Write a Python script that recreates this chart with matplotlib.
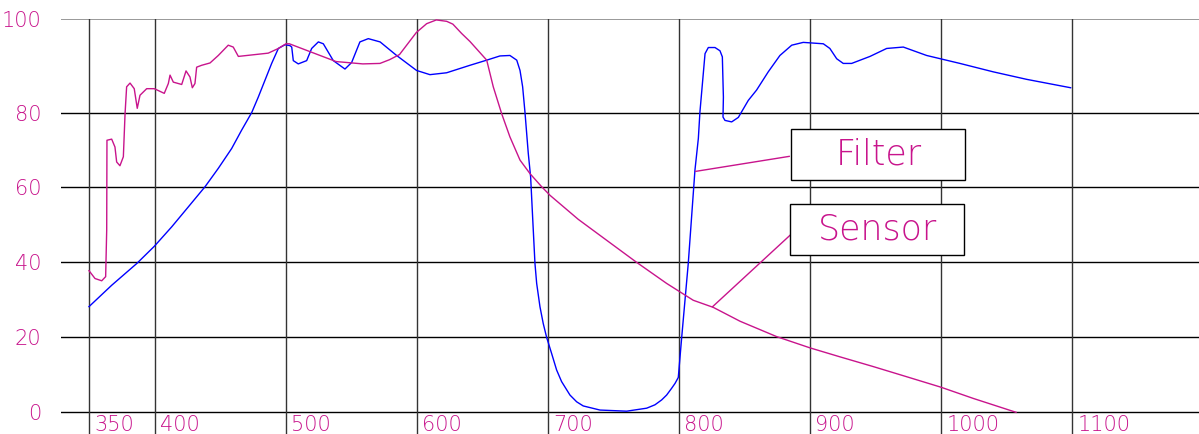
import numpy as np
import matplotlib
matplotlib.use('Agg')
import matplotlib.pyplot as plt
from matplotlib.patches import Rectangle

# colours
MAGENTA = '#c8148c'
BLUE = '#0000ff'

# Sensor response (%)
sensor_nm = [350, 354.6, 359.7, 362.7, 363.5, 363.7, 367.3, 369.8, 371.1, 373.6, 376.2, 377.5,
             378.7, 381.3, 384.5, 386.8, 388.9, 394, 399.8, 407.4, 410.5, 411.8, 414.3, 420.7,
             424, 427, 428.8, 430.8, 432.1, 435.9, 442.3, 448.6, 456.2, 460, 463.9, 486.7,
             494.4, 500.2, 502.8, 520.6, 538.4, 558.8, 571.9, 579.2, 586.8, 599.6, 607.5, 614.9,
             622.8, 627.5, 634.2, 640.5, 653.3, 658.3, 664.7, 671, 678.7, 686.3, 695.2, 701.6,
             723.1, 744.8, 767.7, 790.5, 810.8, 826.1, 846.5, 874.4, 899.8, 922.7, 948.1, 973.5,
             999.7, 1024.4, 1057]
sensor_pct = [37.8, 35.7, 35.1, 36.2, 48.6, 72.6, 72.9, 70.8, 66.8, 65.8, 68.2, 79.7,
              85.5, 86.3, 85.1, 80.9, 83.7, 85.1, 85.1, 84.1, 86.2, 88.0, 86.5, 86.0,
              88.9, 87.6, 85.3, 86.2, 89.7, 90.1, 90.6, 92.2, 94.4, 94.0, 92.0, 92.7,
              93.7, 94.7, 94.7, 92.8, 90.9, 90.4, 90.5, 91.3, 92.4, 97.1, 99.0, 99.8,
              99.5, 98.9, 96.9, 95.2, 91.2, 85.5, 79.7, 73.5, 67.3, 63.7, 60.2, 57.9,
              51.5, 45.9, 40.0, 34.4, 29.9, 28.0, 24.3, 20.2, 17.2, 14.8, 12.2, 9.5,
              6.7, 3.7, 0.0]

# Filter transmission (%)
filter_nm = [350, 367.3, 386.4, 399.8, 413.1, 425.7, 438.5, 448.6, 458.8, 466.4, 474.1, 479.1,
             484.2, 489.3, 494.4, 499.5, 503.3, 504.6, 505.8, 509.6, 516, 519.8, 524.9, 528.7,
             536.3, 545.2, 550.3, 556.6, 563, 572, 584.6, 599.8, 610, 622.7, 640.5, 653.3,
             663.4, 671, 676.2, 678.7, 680.7, 682.5, 685, 686.8, 688.4, 690.1, 691.4, 693.9,
             696.4, 699, 702.8, 706.6, 710.4, 716.8, 721.9, 726.9, 739.7, 760, 775.3, 781.6,
             786.7, 790.5, 794.3, 796.9, 799.4, 802, 807, 812.1, 814.7, 815.9, 819.8, 822.3,
             827.4, 831.2, 833, 833.8, 833.5, 835, 840.1, 845.2, 852.8, 859.1, 868, 876.9,
             885.9, 894.7, 910, 915, 920.2, 925.2, 931.6, 945.6, 958.3, 971, 988.8, 1014.2,
             1039.6, 1065, 1098.6]
filter_pct = [28.2, 33.9, 39.7, 44.3, 49.5, 54.8, 60.2, 65.1, 70.4, 75.3, 80.0, 83.3,
              86.9, 90.5, 93.7, 94.5, 94.3, 94.0, 91.1, 90.4, 91.1, 93.7, 95.1, 94.7,
              91.1, 89.3, 90.7, 95.1, 95.8, 95.1, 92.2, 89.0, 88.1, 88.5, 90.1, 91.2,
              92.1, 92.2, 91.2, 89.0, 85.5, 80.0, 69.1, 62.8, 51.5, 39.7, 34.4, 28.2,
              23.7, 20.0, 15.7, 11.3, 8.2, 4.6, 2.8, 1.7, 0.6, 0.3, 1.1, 2.0,
              3.3, 4.6, 6.4, 7.7, 9.3, 20.0, 39.7, 64.6, 73.1, 80.1, 92.6, 93.9,
              93.9, 93.2, 91.9, 83.3, 78.8, 77.9, 77.5, 78.7, 82.6, 84.8, 88.7, 92.2,
              94.4, 95.0, 94.7, 93.7, 91.5, 90.5, 90.5, 92.0, 93.7, 94.0, 92.2, 90.5,
              88.7, 87.1, 85.3]

x_ticks = [350, 400, 500, 600, 700, 800, 900, 1000, 1100]
y_ticks = [0, 20, 40, 60, 80, 100]

# the top band (80-100) is drawn taller than the others
K = 1.248


def fwd(v):
    v = np.asarray(v, dtype=float)
    return np.where(v <= 80, v, 80 + (v - 80) * K)


def inv(u):
    u = np.asarray(u, dtype=float)
    return np.where(u <= 80, u, 80 + (u - 80) / K)


W, H = 1199, 434
fig = plt.figure(figsize=(W / 100, H / 100), dpi=100)
ax = fig.add_axes([61 / W, 0, (W - 61) / W, (H - 19) / H])
ax.set_yscale('function', functions=(fwd, inv))
ax.set_xlim(328.65, 1196.5)
ax.set_ylim(-5.79, 100)

for s in ax.spines.values():
    s.set_visible(False)

# grid
for y in y_ticks[:-1]:
    ax.axhline(y, color='black', lw=1.0, zorder=1)
ax.axhline(100, color='#888888', lw=1.2, zorder=1)
for x in x_ticks:
    ax.axvline(x, color='#333333', lw=1.0, zorder=1)

# curves
ax.plot(filter_nm, filter_pct, color=BLUE, lw=1.0, zorder=3)
ax.plot(sensor_nm, sensor_pct, color=MAGENTA, lw=1.0, zorder=3)

# tick labels
ax.set_xticks([])
ax.set_yticks(y_ticks)
ax.set_yticklabels([str(v) for v in y_ticks])
ax.tick_params(axis='y', length=0, pad=14, labelsize=15, labelcolor=MAGENTA)
for lab in ax.get_yticklabels():
    lab.set_fontweight('light')
for x in x_ticks:
    ax.text(x + 3.8, -4.9, str(x), color=MAGENTA, fontsize=15, fontweight='light',
            ha='left', va='baseline')

# callouts
ax.plot([812.7, 884.0], [64.3, 68.3], color=MAGENTA, lw=1.0, zorder=4)
ax.plot([825.6, 885.4], [28.2, 47.5], color=MAGENTA, lw=1.0, zorder=4)
ax.add_patch(Rectangle((885.3, 62.1), 132.7, 13.4, facecolor='white', edgecolor='black',
                       lw=1.0, zorder=5))
ax.add_patch(Rectangle((884.6, 42.1), 132.7, 13.4, facecolor='white', edgecolor='black',
                       lw=1.0, zorder=5))
ax.text(952, 68.8, 'Filter', color=MAGENTA, fontsize=25, fontweight='light',
        ha='center', va='center', zorder=6)
ax.text(951, 48.8, 'Sensor', color=MAGENTA, fontsize=25, fontweight='light',
        ha='center', va='center', zorder=6)

fig.savefig('out.png', dpi=100)
